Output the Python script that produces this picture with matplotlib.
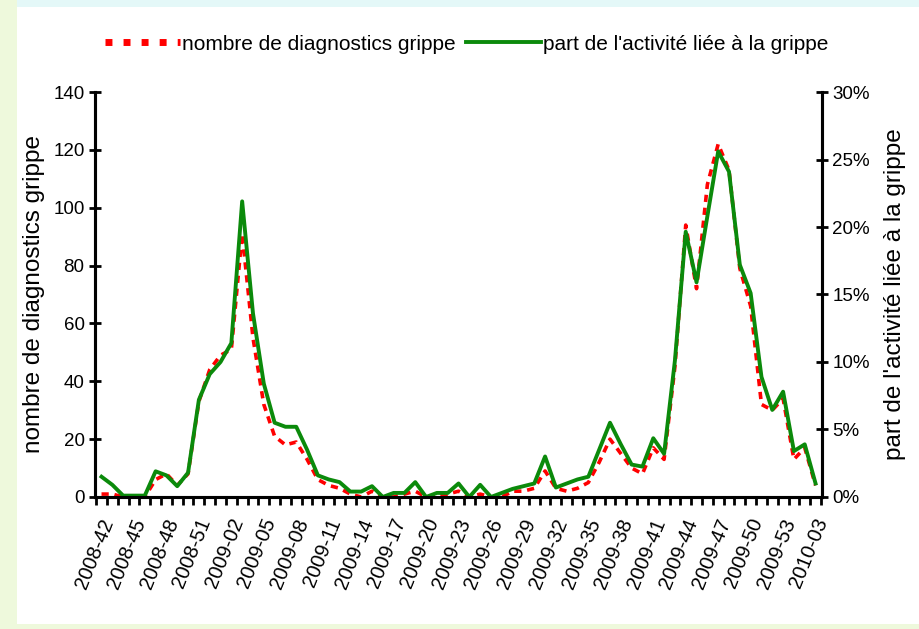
import matplotlib
matplotlib.use("Agg")
import matplotlib.pyplot as plt
from matplotlib.patches import Rectangle
from matplotlib.lines import Line2D
from matplotlib.transforms import ScaledTranslation
from matplotlib.ticker import FuncFormatter, MultipleLocator, FixedLocator

plt.rcParams['font.family'] = ['Liberation Sans', 'DejaVu Sans']

# weeks 2008-42 .. 2010-03
weeks = ([f"2008-{w:02d}" for w in range(42, 53)]
         + [f"2009-{w:02d}" for w in range(1, 54)]
         + [f"2010-{w:02d}" for w in range(1, 4)])

# number of flu diagnoses (left axis)
diagnostics = [1, 1, 0, 0, 0, 6, 8, 4, 8, 33,
               44, 49, 51, 91, 55, 32, 21, 18, 19, 13,
               6, 4, 3, 1, 0, 2, 0, 0, 1, 2,
               0, 0, 1, 2, 0, 1, 0, 0, 2, 2,
               3, 9, 3, 2, 3, 5, 12, 20, 15, 10,
               8, 17, 13, 45, 94, 72, 108, 122, 113, 79,
               66, 32, 30, 34, 13, 17, 4]

# share of activity linked to flu, % (right axis)
part_activite = [1.5, 0.9, 0.1, 0.1, 0.1, 1.9, 1.6, 0.8, 1.8, 7.2,
                 9.1, 10.0, 11.4, 21.9, 13.6, 8.4, 5.5, 5.2, 5.2, 3.5,
                 1.6, 1.3, 1.1, 0.4, 0.4, 0.8, 0.0, 0.3, 0.3, 1.1,
                 0.0, 0.3, 0.3, 1.0, 0.0, 0.9, 0.0, 0.3, 0.6, 0.8,
                 1.0, 3.0, 0.7, 1.0, 1.3, 1.5, 3.5, 5.5, 3.9, 2.4,
                 2.25, 4.35, 3.2, 10.1, 19.65, 15.9, 20.8, 25.6, 24.1, 17.2,
                 15.1, 8.9, 6.45, 7.8, 3.4, 3.9, 1.0]

x = list(range(len(weeks)))

fig = plt.figure(figsize=(9.19, 6.29), dpi=100)
fig.patch.set_facecolor('#eef9dc')
fig.patches.append(Rectangle((0.018, 0.008), 0.982, 0.981, transform=fig.transFigure,
                             facecolor='white', edgecolor='none', zorder=-10))
fig.patches.append(Rectangle((0.018, 0.989), 0.982, 0.011, transform=fig.transFigure,
                             facecolor='#e4f8f8', edgecolor='none', zorder=-10))

ax = fig.add_axes([0.1034, 0.2099, 0.7911, 0.6438])
ax.set_facecolor('none')
ax2 = ax.twinx()

red_style = dict(color='#ff0000', lw=2.6, linestyle=(0, (2, 1.6)))
green_style = dict(color='#0b8a0b', lw=2.8)
ax.plot(x, diagnostics, **red_style)
ax2.plot(x, part_activite, **green_style)

ax.set_xlim(-0.6, len(weeks) - 0.4)
ax.set_ylim(0, 140)
ax2.set_ylim(0, 30)
ax.yaxis.set_major_locator(MultipleLocator(20))
ax2.yaxis.set_major_locator(MultipleLocator(5))
ax2.yaxis.set_major_formatter(FuncFormatter(lambda v, p: f"{v:.0f}%"))

for a in (ax, ax2):
    a.spines['top'].set_visible(False)
    for s in ('left', 'right', 'bottom'):
        a.spines[s].set_linewidth(2.2)

ax.tick_params(axis='y', direction='inout', length=9, width=2, labelsize=13.5, pad=3)
ax2.tick_params(axis='y', direction='inout', length=9, width=2, labelsize=13.5, pad=3)

ax.xaxis.set_major_locator(FixedLocator(x[::3]))
ax.set_xticklabels(weeks[::3], rotation=68, ha='right', va='center',
                   rotation_mode='anchor', fontsize=14.5)
ax.tick_params(axis='x', which='major', length=0, pad=16)
shift = ScaledTranslation(5 / 72, 0, fig.dpi_scale_trans)
for lab in ax.get_xticklabels():
    lab.set_transform(lab.get_transform() + shift)
ax.xaxis.set_minor_locator(FixedLocator([i - 0.5 for i in range(len(weeks) + 1)]))
ax.tick_params(axis='x', which='minor', direction='out', length=6, width=2)

ax.set_ylabel('nombre de diagnostics grippe', fontsize=17.5, labelpad=6)
ax2.set_ylabel("part de l'activité liée à la grippe", fontsize=17.5, labelpad=10)

handles = [Line2D([], [], color='#ff0000', lw=5, linestyle=(0, (1, 1.6))),
           Line2D([], [], **green_style)]
fig.legend(handles=handles,
           labels=['nombre de diagnostics grippe', "part de l'activité liée à la grippe"],
           loc='center', bbox_to_anchor=(0.508, 0.93), ncol=2,
           frameon=False, fontsize=15, handlelength=3.6, handletextpad=0.1,
           columnspacing=0.5)

fig.savefig('out.png', dpi=100, facecolor=fig.get_facecolor())
